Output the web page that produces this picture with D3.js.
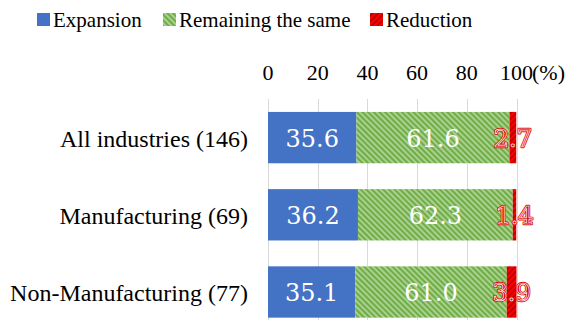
<!DOCTYPE html>
<html>
<head>
<meta charset="utf-8">
<script src="https://cdn.jsdelivr.net/npm/d3@7"></script>
<style>
  html, body { margin: 0; padding: 0; background: #fff; }
  svg { display: block; }
</style>
</head>
<body>
<svg id="chart" width="578" height="320"></svg>
<script>
// Share of companies by planned change (%), per industry group
const categories = ["All industries (146)", "Manufacturing (69)", "Non-Manufacturing (77)"];
const seriesNames = ["Expansion", "Remaining the same", "Reduction"];
const expansion = [35.6, 36.2, 35.1];
const remaining = [61.6, 62.3, 61.0];
const reduction = [2.7, 1.4, 3.9];
const tickValues = [0, 20, 40, 60, 80, 100];
const unitLabel = "(%)";

const svg = d3.select("#chart");
const defs = svg.append("defs");

// Hatched fills
function stripes(id, base, stripe, angle) {
  const p = defs.append("pattern")
    .attr("id", id)
    .attr("patternUnits", "userSpaceOnUse")
    .attr("width", 4).attr("height", 4)
    .attr("patternTransform", `rotate(${angle})`);
  p.append("rect").attr("width", 4).attr("height", 4).attr("fill", base);
  p.append("rect").attr("width", 2).attr("height", 4).attr("fill", stripe);
}
stripes("hatchGreen", "#a9d18e", "#70ad47", -45);
stripes("hatchRed", "#ff0000", "#c00000", 45);

const fills = ["#4472c4", "url(#hatchGreen)", "url(#hatchRed)"];

const x = d3.scaleLinear().domain([0, 100]).range([268, 516.5]);
const y = d3.scaleBand().domain(categories).range([99, 330.6])
  .paddingInner(0.335).paddingOuter(0.1675);

// Gridlines
svg.append("g")
  .selectAll("line")
  .data(tickValues)
  .join("line")
  .attr("x1", d => Math.round(x(d)) + 0.5)
  .attr("x2", d => Math.round(x(d)) + 0.5)
  .attr("y1", 99).attr("y2", 330)
  .attr("stroke", "#d9d9d9").attr("stroke-width", 1);

// Top axis labels
svg.append("g").selectAll("text")
  .data(tickValues)
  .join("text")
  .attr("x", d => x(d))
  .attr("y", 80)
  .attr("text-anchor", "middle")
  .attr("fill", "#000")
  .style("font-family", "'Times New Roman'")
  .attr("font-size", 22)
  .text(d => d);
svg.append("text")
  .attr("x", 532).attr("y", 80)
  .attr("fill", "#000")
  .style("font-family", "'Times New Roman'")
  .attr("font-size", 22)
  .text(unitLabel);

// Stacked bars
const rows = categories.map((c, i) => ({ cat: c, vals: [expansion[i], remaining[i], reduction[i]] }));
const stack = d3.stack().keys([0, 1, 2]).value((d, k) => d.vals[k]);
const layers = stack(rows);

layers.forEach((layer, k) => {
  svg.append("g")
    .selectAll("rect")
    .data(layer)
    .join("rect")
    .attr("x", d => x(d[0]))
    .attr("y", d => y(d.data.cat))
    .attr("width", d => x(d[1]) - x(d[0]))
    .attr("height", y.bandwidth())
    .attr("fill", fills[k]);
});

// Value labels
function valueLabels(layer, k) {
  return svg.append("g")
    .selectAll("text")
    .data(layer)
    .join("text")
    .attr("x", d => (x(d[0]) + x(d[1])) / 2)
    .attr("y", d => y(d.data.cat) + y.bandwidth() / 2 + 9)
    .attr("text-anchor", "middle")
    .style("font-family", "'DejaVu Serif'")
    .attr("font-size", 24)
    .text(d => d.data.vals[k].toFixed(1));
}
layers.forEach((layer, k) => {
  if (k < 2) {
    valueLabels(layer, k).attr("fill", "#fff");
  } else {
    valueLabels(layer, k)
      .attr("fill", "#e00000").attr("stroke", "#e00000").attr("stroke-width", 2.4)
      .attr("stroke-linejoin", "round");
    valueLabels(layer, k)
      .attr("fill", "#e00000").attr("stroke", "#fff").attr("stroke-width", 0.7);
  }
});

// Category labels
svg.append("g")
  .selectAll("text")
  .data(categories)
  .join("text")
  .attr("x", 248)
  .attr("y", d => y(d) + y.bandwidth() / 2 + 9)
  .attr("text-anchor", "end")
  .attr("fill", "#000")
  .style("font-family", "'Liberation Serif'")
  .attr("font-size", 24)
  .text(d => d);

// Legend
const legendX = [37, 163, 370];
const lg = svg.append("g");
seriesNames.forEach((name, i) => {
  lg.append("rect")
    .attr("x", legendX[i]).attr("y", 13)
    .attr("width", 13).attr("height", 13)
    .attr("fill", fills[i]);
  lg.append("text")
    .attr("x", legendX[i] + 16).attr("y", 27)
    .attr("fill", "#000")
    .style("font-family", "serif")
    .attr("font-size", 21)
    .text(name);
});
</script>
</body>
</html>
